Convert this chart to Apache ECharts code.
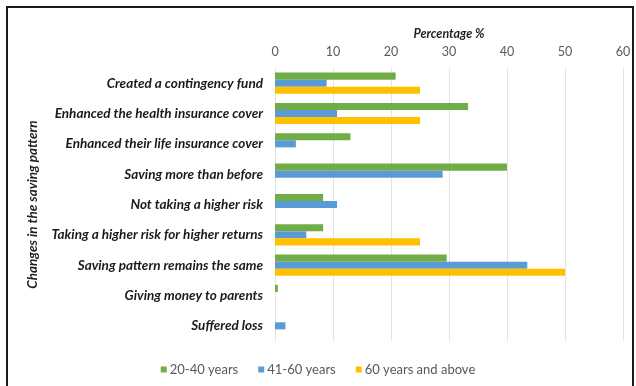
<!DOCTYPE html>
<html>
<head>
<meta charset="utf-8">
<style>
  html, body { margin: 0; padding: 0; background: #fff; }
  #chart { width: 636px; height: 386px; }
</style>
<script src="https://cdn.jsdelivr.net/npm/echarts@6/dist/echarts.min.js"></script>
</head>
<body>
<div id="chart"></div>
<script>
// Changes in the saving pattern, by age group (percentage of respondents)
const categories = [
  'Created a contingency fund',
  'Enhanced the health insurance cover',
  'Enhanced their life insurance cover',
  'Saving more than before',
  'Not taking a higher risk',
  'Taking a higher risk for higher returns',
  'Saving pattern remains the same',
  'Giving money to parents',
  'Suffered loss'
];
const seriesNames = ['20-40 years', '41-60 years', '60 years and above'];
const age20to40 = [20.8, 33.3, 13.0, 40.0, 8.3, 8.3, 29.6, 0.5, 0];
const age41to60 = [8.9, 10.7, 3.6, 28.9, 10.7, 5.4, 43.5, 0, 1.8];
const age60plus = [25.0, 25.0, 0, 0, 0, 25.0, 50.0, 0, 0];
const xTicks = [0, 10, 20, 30, 40, 50, 60];

const colors = ['#70ad47', '#5b9bd5', '#ffc000'];
const font = 'Lato, "Open Sans", sans-serif';

const chart = echarts.init(document.getElementById('chart'));
chart.setOption({
  animation: false,
  color: colors,
  graphic: [{
    type: 'rect',
    shape: { x: 7, y: 7, width: 626, height: 390 },
    style: { fill: 'none', stroke: '#1a1a1a', lineWidth: 2 },
    silent: true
  }],
  legend: {
    bottom: 5,
    left: 'center',
    itemWidth: 6,
    itemHeight: 6,
    itemGap: 20,
    icon: 'rect',
    textStyle: { fontFamily: font, fontSize: 13, color: '#595959', padding: [0, 0, 0, -2] },
    data: seriesNames
  },
  grid: { left: 275, right: 13, top: 68, bottom: 45, containLabel: false },
  xAxis: {
    type: 'value',
    position: 'top',
    min: xTicks[0],
    max: xTicks[xTicks.length - 1],
    interval: 10,
    name: 'Percentage %',
    nameLocation: 'middle',
    nameGap: 27,
    nameTextStyle: { fontFamily: font, fontSize: 12.5, fontWeight: 'bold', fontStyle: 'italic', color: '#1f1f1f' },
    axisLine: { show: false },
    axisTick: { show: false },
    axisLabel: { fontFamily: font, fontSize: 12.5, color: '#595959', margin: 10 },
    splitLine: { lineStyle: { color: '#e3e3e3', width: 1 } }
  },
  yAxis: {
    type: 'category',
    inverse: true,
    data: categories,
    name: 'Changes in the saving pattern',
    nameLocation: 'middle',
    nameGap: 235,
    nameRotate: 90,
    nameTextStyle: { fontFamily: font, fontSize: 13.5, fontWeight: 'bold', fontStyle: 'italic', color: '#1f1f1f' },
    axisLine: { show: false },
    axisTick: { show: false },
    axisLabel: { fontFamily: font, fontSize: 13.5, fontWeight: 'bold', fontStyle: 'italic', color: '#1a1a1a', margin: 12 }
  },
  series: [
    { name: seriesNames[0], type: 'bar', data: age20to40, barGap: '0%', barCategoryGap: '30%' },
    { name: seriesNames[1], type: 'bar', data: age41to60, barGap: '0%', barCategoryGap: '30%' },
    { name: seriesNames[2], type: 'bar', data: age60plus, barGap: '0%', barCategoryGap: '30%' }
  ]
});
</script>
</body>
</html>
